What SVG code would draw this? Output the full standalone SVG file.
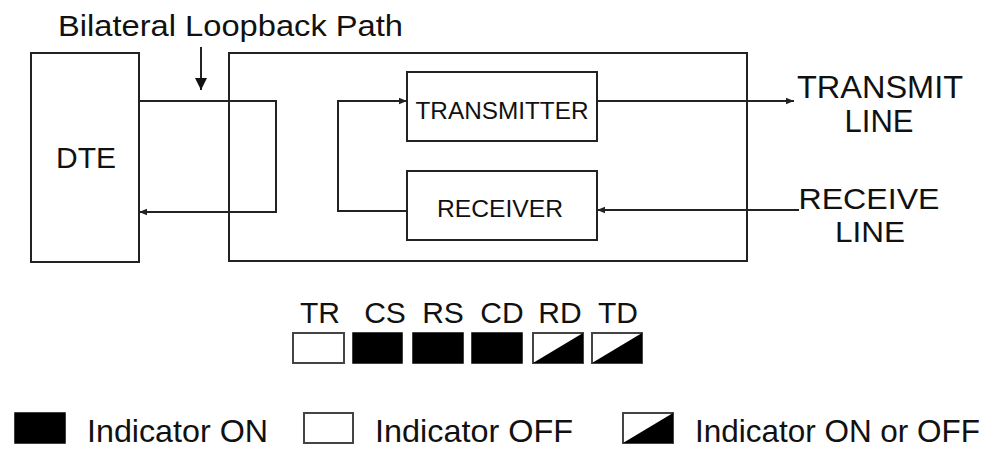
<svg xmlns="http://www.w3.org/2000/svg" width="1001" height="451" viewBox="0 0 1001 451">
<style>
.box{fill:#fff;stroke:#222;stroke-width:2}
.ln{fill:none;stroke:#222;stroke-width:2}
.t{font-family:"Liberation Sans",Arial,sans-serif;fill:#111}
.on{fill:#000;stroke:#000;stroke-width:1.5}
.off{fill:#fff;stroke:#444;stroke-width:2}
</style>
<defs>
<marker id="ah" viewBox="0 0 10 10" refX="10" refY="5" markerWidth="4" markerHeight="4" orient="auto" markerUnits="strokeWidth">
<path d="M0,1 L10,5 L0,9 z" fill="#222"/>
</marker>
<marker id="big" viewBox="0 0 10 10" refX="10" refY="5" markerWidth="7" markerHeight="6" orient="auto" markerUnits="strokeWidth">
<path d="M0,0 L10,5 L0,10 z" fill="#111"/>
</marker>
</defs>
<rect width="1001" height="451" fill="#fff"/>

<g id="title">
<text class="t" x="58" y="36" font-size="29" textLength="345" lengthAdjust="spacingAndGlyphs">Bilateral Loopback Path</text>
</g>

<g id="dte">
<rect class="box" x="31" y="53" width="108" height="209"/>
<text class="t" x="86" y="168" font-size="30" text-anchor="middle">DTE</text>
</g>

<g id="dce">
<rect class="box" x="229" y="53" width="518" height="208"/>
</g>

<g id="transmitter">
<rect class="box" x="407" y="72" width="190" height="69"/>
<text class="t" x="502" y="119" font-size="24" text-anchor="middle" textLength="173" lengthAdjust="spacingAndGlyphs">TRANSMITTER</text>
</g>

<g id="receiver">
<rect class="box" x="407" y="171" width="190" height="69"/>
<text class="t" x="500" y="217" font-size="24" text-anchor="middle" textLength="126" lengthAdjust="spacingAndGlyphs">RECEIVER</text>
</g>

<g id="transmit-line">
<text class="t" x="880" y="98" font-size="31" text-anchor="middle" textLength="166" lengthAdjust="spacingAndGlyphs">TRANSMIT</text>
<text class="t" x="879" y="132" font-size="31" text-anchor="middle">LINE</text>
</g>

<g id="receive-line">
<text class="t" x="869" y="209" font-size="30" text-anchor="middle" textLength="141" lengthAdjust="spacingAndGlyphs">RECEIVE</text>
<text class="t" x="870" y="242" font-size="30" text-anchor="middle" textLength="70" lengthAdjust="spacingAndGlyphs">LINE</text>
</g>

<g id="connectors">
<line class="ln" x1="201" y1="47" x2="201" y2="90" marker-end="url(#big)"/>
<polyline class="ln" points="139,101 276,101 276,212 139,212" marker-end="url(#ah)"/>
<polyline class="ln" points="407,211 338,211 338,101 407,101" marker-end="url(#ah)"/>
<line class="ln" x1="597" y1="101" x2="794" y2="101" marker-end="url(#ah)"/>
<line class="ln" x1="799" y1="210" x2="597" y2="210" marker-end="url(#ah)"/>
</g>

<g id="indicators">
<text class="t" x="320" y="323" font-size="30" text-anchor="middle">TR</text>
<text class="t" x="385" y="323" font-size="30" text-anchor="middle">CS</text>
<text class="t" x="443" y="323" font-size="30" text-anchor="middle">RS</text>
<text class="t" x="502" y="323" font-size="30" text-anchor="middle">CD</text>
<text class="t" x="560" y="323" font-size="30" text-anchor="middle">RD</text>
<text class="t" x="618" y="323" font-size="30" text-anchor="middle">TD</text>
<rect class="off" x="293" y="333" width="51" height="30" stroke="#999"/>
<rect class="on" x="353" y="333" width="49" height="30"/>
<rect class="on" x="413" y="333" width="50" height="30"/>
<rect class="on" x="472" y="333" width="50" height="30"/>
<rect class="off" x="533" y="333" width="50" height="30"/>
<polygon points="533,363 583,333 583,363" fill="#000"/>
<rect class="off" x="592" y="333" width="50" height="30"/>
<polygon points="592,363 642,333 642,363" fill="#000"/>
</g>

<g id="legend">
<rect class="on" x="15" y="413" width="50" height="30"/>
<text class="t" x="87" y="442" font-size="32" textLength="181" lengthAdjust="spacingAndGlyphs">Indicator ON</text>
<rect class="off" x="304" y="413" width="49" height="30"/>
<text class="t" x="375" y="442" font-size="32" textLength="198" lengthAdjust="spacingAndGlyphs">Indicator OFF</text>
<rect class="off" x="623" y="413" width="50" height="30"/>
<polygon points="623,443 673,413 673,443" fill="#000"/>
<text class="t" x="695" y="442" font-size="32" textLength="285" lengthAdjust="spacingAndGlyphs">Indicator ON or OFF</text>
</g>
</svg>
